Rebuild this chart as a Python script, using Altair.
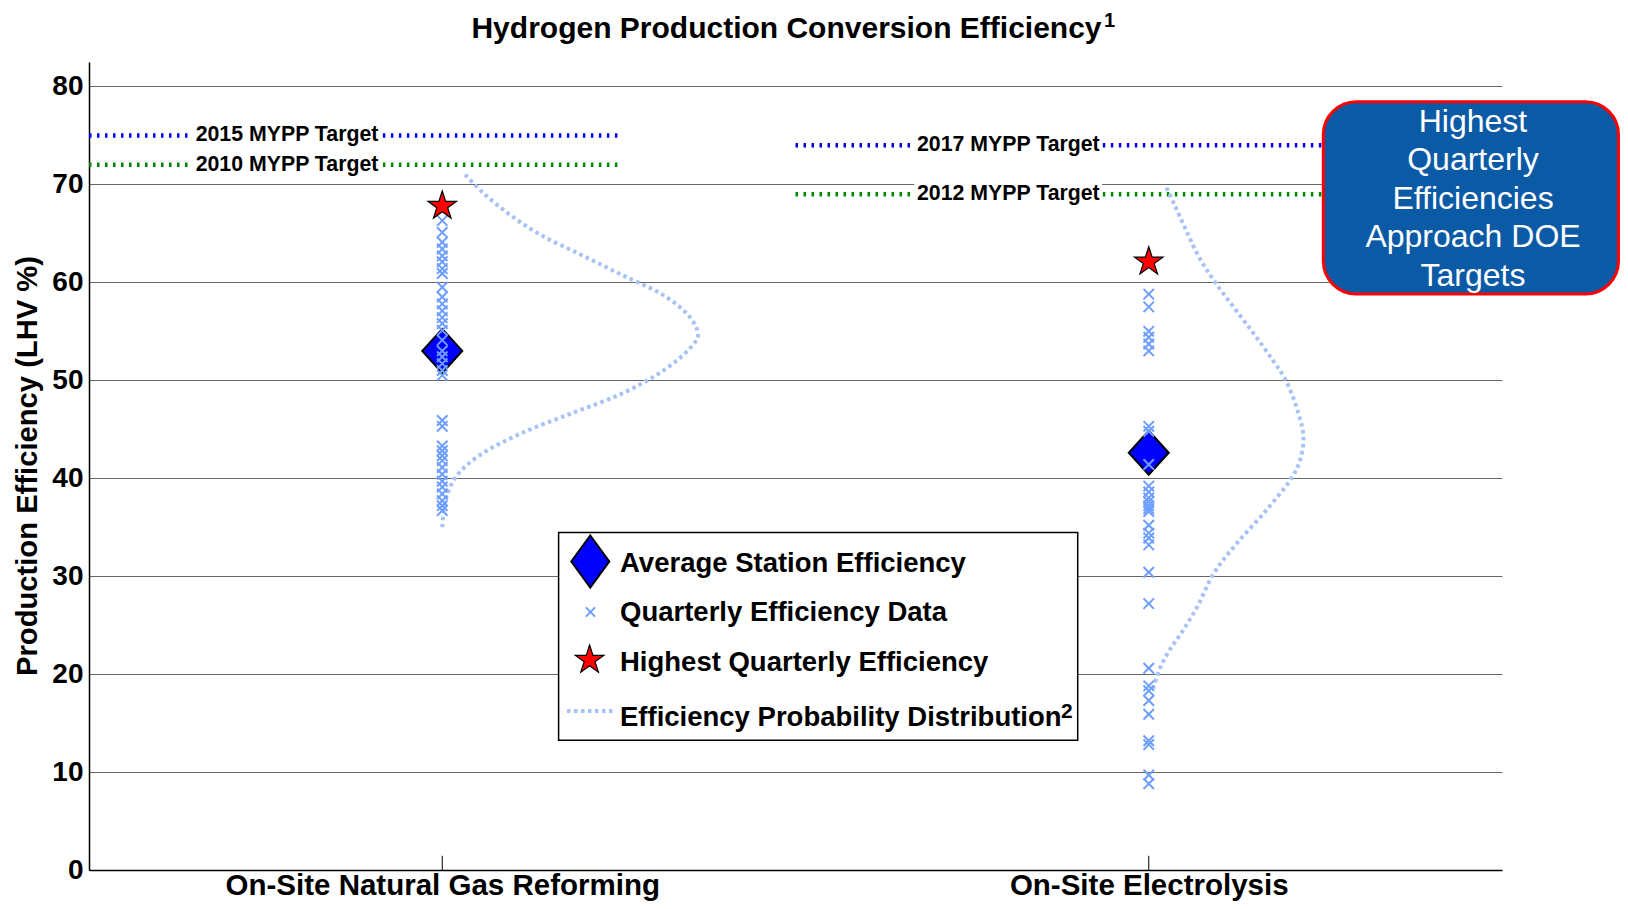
import altair as alt
import pandas as pd

# ---------------- data ----------------
categories = ["On-Site Natural Gas Reforming", "On-Site Electrolysis"]
category_positions = [1, 2]

ng_quarterly = [66.3, 65.1, 64.1, 63.4, 62.7, 62.1, 61.4, 60.9, 59.5, 58.5, 57.8,
                57.1, 56.4, 55.8, 55.1, 54.1, 53.0, 52.4, 51.7, 51.0, 50.5, 45.9,
                45.3, 43.3, 42.8, 42.3, 41.8, 41.1, 40.4, 39.7, 39.1, 38.4, 37.7,
                37.2, 36.7]
el_quarterly = [58.8, 57.5, 55.0, 54.4, 53.7, 53.0, 45.3, 44.8, 41.4, 39.2, 38.6,
                38.0, 37.6, 37.2, 36.9, 36.6, 35.2, 34.4, 33.9, 33.2, 30.4, 27.2,
                20.6, 18.8, 18.3, 17.3, 15.9, 13.2, 12.8, 9.7, 8.8]
average_efficiency = [53.0, 42.6]
highest_efficiency = [67.8, 62.1]

# probability distribution curves: efficiency value and horizontal width
ng_dist_y = [35.0, 37.5, 40.0, 42.2, 44.5, 46.6, 48.7, 51.1, 53.3, 54.6, 56.4,
             58.6, 60.7, 62.8, 64.9, 67.0, 69.2, 71.1]
ng_dist_w = [0.000, 0.004, 0.018, 0.050, 0.109, 0.182, 0.256, 0.315, 0.351, 0.362,
             0.351, 0.315, 0.256, 0.197, 0.138, 0.094, 0.057, 0.031]
el_dist_y = [18.5, 20.6, 22.4, 24.3, 26.8, 30.4, 33.3, 36.7, 40.0, 41.8, 44.2,
             46.6, 50.0, 52.0, 55.4, 60.0, 62.6, 65.3, 68.0, 70.0]
el_dist_w = [0.006, 0.016, 0.029, 0.047, 0.068, 0.093, 0.124, 0.166, 0.202, 0.214,
             0.219, 0.212, 0.194, 0.176, 0.142, 0.094, 0.071, 0.053, 0.036, 0.023]

target_labels = ["2015 MYPP Target", "2010 MYPP Target", "2017 MYPP Target", "2012 MYPP Target"]
target_values = [75, 72, 74, 69]
target_kind = ["later", "earlier", "later", "earlier"]
target_start = [0.5, 0.5, 1.5, 1.5]
target_end = [1.25, 1.25, 2.5, 2.5]
target_label_start = [0.651, 0.651, 1.672, 1.672]
target_label_end = [0.912, 0.912, 1.931, 1.931]

legend_labels = ["Average Station Efficiency", "Quarterly Efficiency Data",
                 "Highest Quarterly Efficiency", "Efficiency Probability Distribution"]
title_text = "Hydrogen Production Conversion Efficiency"
y_title_text = "Production Efficiency (LHV %)"
callout_text = "Highest\nQuarterly\nEfficiencies\nApproach DOE\nTargets"

# ---------------- tables ----------------
FONT = "Liberation Sans"
quarterly_df = pd.DataFrame(
    {"x": [category_positions[0]] * len(ng_quarterly) + [category_positions[1]] * len(el_quarterly),
     "y": ng_quarterly + el_quarterly})
avg_df = pd.DataFrame({"x": category_positions, "y": average_efficiency})
high_df = pd.DataFrame({"x": category_positions, "y": highest_efficiency})

dist_rows = []
for name, pos, ys, ws in [("ng", 1, ng_dist_y, ng_dist_w), ("el", 2, el_dist_y, el_dist_w)]:
    for i, (yv, wv) in enumerate(zip(ys, ws)):
        dist_rows.append({"curve": name, "i": i, "x": pos + wv, "y": yv})
dist_df = pd.DataFrame(dist_rows)

seg_rows, lab_rows = [], []
for lab, v, k, s, e, ls, le in zip(target_labels, target_values, target_kind, target_start,
                                   target_end, target_label_start, target_label_end):
    seg_rows.append({"x": s, "x2": ls - 0.008, "y": v, "kind": k})
    seg_rows.append({"x": le + 0.004, "x2": e, "y": v, "kind": k})
    lab_rows.append({"x": ls, "xl": ls - 0.004, "xr": le + 0.003, "y": v,
                     "ylo": v - 1.15, "yhi": v + 1.15, "text": lab})
seg_df = pd.DataFrame(seg_rows)
lab_df = pd.DataFrame(lab_rows)
tick_df = pd.DataFrame({"x": category_positions, "y": [0, 0], "y2": [1.45, 1.45]})

# ---------------- scales / axes ----------------
label_expr = "datum.value == {} ? '{}' : '{}'".format(category_positions[0], categories[0], categories[1])
xscale = alt.Scale(domain=[0.5, 2.5], nice=False, zero=False)
yscale = alt.Scale(domain=[0, 82.5], nice=False, zero=False)
xaxis = alt.Axis(values=category_positions, labelExpr=label_expr, title=None, grid=False,
                 ticks=False, labelFont=FONT, labelFontSize=29.5, labelFontWeight="bold",
                 labelColor="black", labelPadding=1, labelFlush=False, labelOverlap=False,
                 labelBound=False, labelLimit=0, domainColor="black", domainWidth=1.5)
yaxis = alt.Axis(values=list(range(0, 81, 10)), title=None, grid=True, gridColor="#666666",
                 gridWidth=1, ticks=False, labelFont=FONT, labelFontSize=28,
                 labelFontWeight="bold", labelColor="black", labelPadding=6,
                 labelOverlap=False, domainColor="black", domainWidth=1.5)


def X(f="x"):
    return alt.X(f"{f}:Q", scale=xscale, axis=xaxis)


def Y(f="y"):
    return alt.Y(f"{f}:Q", scale=yscale, axis=yaxis)


DIAMOND = "M0,-1.1L1,0L0,1.1L-1,0Z"
DIAMOND_LEG = "M0,-1.37L1,0L0,1.37L-1,0Z"
XMARK = "M-1,-1L1,1M-1,1L1,-1"
STAR = ("M0,-1L0.2245,-0.309L0.951,-0.309L0.363,0.118L0.588,0.809L0,0.382"
        "L-0.588,0.809L-0.363,0.118L-0.951,-0.309L-0.2245,-0.309Z")
XCOL = "#6d9eff"
DISTCOL = "#a7c2f6"

# ---------------- data layers ----------------
ticks = alt.Chart(tick_df).mark_rule(color="black", strokeWidth=1).encode(
    x=X(), y=Y(), y2="y2:Q")

label_bg = alt.Chart(lab_df).mark_rect(color="white").encode(
    x=X("xl"), x2="xr:Q", y=Y("ylo"), y2="yhi:Q")

targets = alt.Chart(seg_df).mark_rule(strokeWidth=4.5, strokeDash=[2.5, 5.5]).encode(
    x=X(), x2="x2:Q", y=Y(),
    color=alt.Color("kind:N", scale=alt.Scale(domain=["later", "earlier"],
                                              range=["#0000ee", "#008a00"]), legend=None))

target_text = alt.Chart(lab_df).mark_text(
    align="left", baseline="middle", font=FONT, fontSize=21.3, fontWeight="bold",
    color="black").encode(x=X(), y=Y(), text="text:N")

curves = alt.Chart(dist_df).mark_line(
    color=DISTCOL, strokeWidth=4, strokeDash=[3.5, 3.5], interpolate="catmull-rom").encode(
    x=X(), y=Y(), detail="curve:N", order="i:Q")

avg_pts = alt.Chart(avg_df).mark_point(
    shape=DIAMOND, filled=True, fill="#0000ff", stroke="black", strokeWidth=2,
    size=1600, opacity=1).encode(x=X(), y=Y())

q_pts = alt.Chart(quarterly_df).mark_point(
    shape=XMARK, filled=False, stroke=XCOL, strokeWidth=2, size=110, opacity=1).encode(
    x=X(), y=Y())

high_pts = alt.Chart(high_df).mark_point(
    shape=STAR, filled=True, fill="#ff0000", stroke="black", strokeWidth=1.2,
    size=900, opacity=1).encode(x=X(), y=Y())

# ---------------- titles, legend, callout (pixel placed) ----------------
one = pd.DataFrame({"t": [""]})


def txt(text, x, y, size, align="left", baseline="alphabetic", weight="bold",
        color="black", angle=0, **kw):
    return alt.Chart(pd.DataFrame({"t": [text]})).mark_text(
        align=align, baseline=baseline, font=FONT, fontSize=size, fontWeight=weight,
        color=color, angle=angle, **kw).encode(
        x=alt.value(x), y=alt.value(y), text="t:N")


title = txt(title_text, 697.5, -23.6, 30, align="center")
title_sup = txt("1", 1015, -35.5, 20)
y_title = txt(y_title_text, -61, 404, 29.2, align="center", baseline="middle", angle=270)

leg_box = alt.Chart(one).mark_rect(fill="white", stroke="black", strokeWidth=1.5).encode(
    x=alt.value(469.6), x2=alt.value(988.7), y=alt.value(470.6), y2=alt.value(678.3))
leg_diamond = alt.Chart(one).mark_point(
    shape=DIAMOND_LEG, filled=True, fill="#0000ff", stroke="black", strokeWidth=2,
    size=1444, opacity=1).encode(x=alt.value(501.3), y=alt.value(499.5))
leg_x = alt.Chart(one).mark_point(
    shape=XMARK, filled=False, stroke=XCOL, strokeWidth=2, size=85, opacity=1).encode(
    x=alt.value(501.5), y=alt.value(550))
leg_star = alt.Chart(one).mark_point(
    shape=STAR, filled=True, fill="#ff0000", stroke="black", strokeWidth=1.2,
    size=900, opacity=1).encode(x=alt.value(500.6), y=alt.value(598))
leg_line = alt.Chart(one).mark_rule(color=DISTCOL, strokeWidth=4, strokeDash=[3.5, 3.5]).encode(
    x=alt.value(478), x2=alt.value(524), y=alt.value(649))
leg_ys = [509.6, 558.5, 608.6, 664]
leg_texts = [txt(lbl, 531, yy, 27.5) for lbl, yy in zip(legend_labels, leg_ys)]
leg_sup = txt("2", 972, 656, 21)

callout_box = alt.Chart(one).mark_rect(
    fill="#0b5aa6", stroke="#ff0000", strokeWidth=3, cornerRadius=33).encode(
    x=alt.value(1234.3), x2=alt.value(1529.5), y=alt.value(39.7), y2=alt.value(232))
callout = txt(callout_text, 1384, 59.5, 32, align="center", baseline="middle",
              weight="normal", color="white", lineBreak="\n", lineHeight=38.6)

chart = alt.layer(
    ticks, label_bg, targets, target_text, curves, avg_pts, q_pts, high_pts,
    title, title_sup, y_title,
    leg_box, leg_diamond, leg_x, leg_star, leg_line, *leg_texts, leg_sup,
    callout_box, callout,
).properties(
    width=1413, height=808,
    autosize=alt.AutoSizeParams(type="none"),
    padding={"left": 81, "top": 54, "right": 118, "bottom": 31},
).configure(
    font=FONT, background="white", view=alt.ViewConfig(stroke=None)
)

chart.save("out.html", embed_options={"renderer": "svg", "actions": False})
